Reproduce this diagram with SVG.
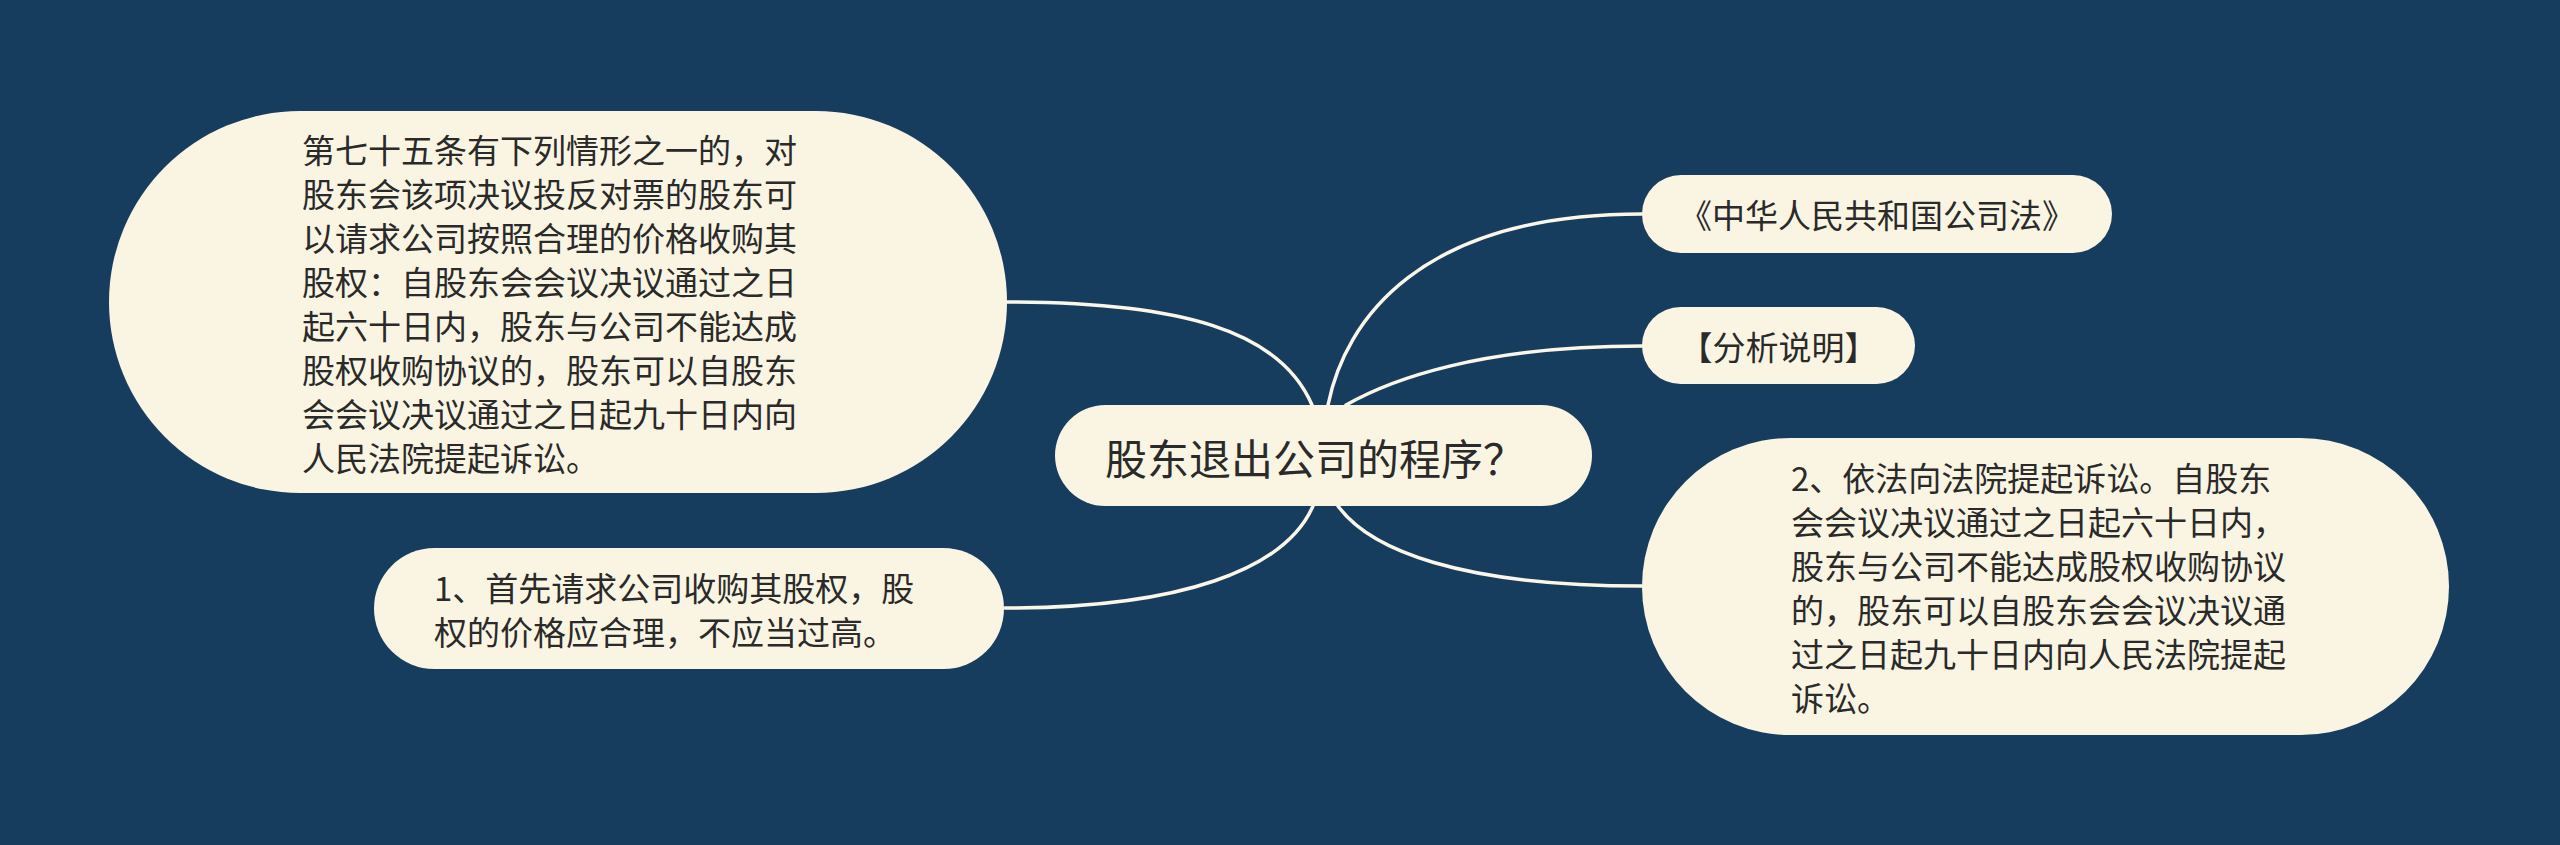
<svg xmlns="http://www.w3.org/2000/svg" width="2560" height="845" viewBox="0 0 2560 845">
<style>
.bg{fill:#173d5e}
.node{fill:#faf5e2}
.edge{fill:none;stroke:#fbf7e8;stroke-width:3.5;stroke-linecap:round}
.t{font-family:"Noto Sans CJK SC","Noto Sans",sans-serif;fill:#2a2a2a;dominant-baseline:central}
.s{font-size:33px}
.c{font-size:42px}
</style>
<rect class="bg" x="0" y="0" width="2560" height="845"/>
<g id="connectors">
<path class="edge" d="M1312 405 C1280 330 1180 302 1005 302"/>
<path class="edge" d="M1328 405 C1345 320 1420 214 1642 214"/>
<path class="edge" d="M1346 405 C1390 380 1480 346 1642 346"/>
<path class="edge" d="M1313 506 C1285 570 1180 608 1005 608"/>
<path class="edge" d="M1338 506 C1370 550 1460 586 1642 586"/>
</g>
<g id="center">
<rect class="node" x="1055" y="405" width="537" height="101" rx="50.5"/>
<text class="t c" x="1315" y="456" text-anchor="middle">股东退出公司的程序？</text>
</g>
<g id="node-law">
<rect class="node" x="1642" y="175" width="470" height="78" rx="39"/>
<text class="t s" x="1877" y="214" text-anchor="middle">《中华人民共和国公司法》</text>
</g>
<g id="node-analysis">
<rect class="node" x="1642" y="307" width="273" height="77" rx="38.5"/>
<text class="t s" x="1778.5" y="345.5" text-anchor="middle">【分析说明】</text>
</g>
<g id="node-article">
<rect class="node" x="109" y="111" width="898" height="382" rx="191"/>
<text class="t s" x="302">
<tspan x="302" y="149">第七十五条有下列情形之一的，对</tspan>
<tspan x="302" y="193">股东会该项决议投反对票的股东可</tspan>
<tspan x="302" y="237">以请求公司按照合理的价格收购其</tspan>
<tspan x="302" y="281">股权：自股东会会议决议通过之日</tspan>
<tspan x="302" y="325">起六十日内，股东与公司不能达成</tspan>
<tspan x="302" y="369">股权收购协议的，股东可以自股东</tspan>
<tspan x="302" y="413">会会议决议通过之日起九十日内向</tspan>
<tspan x="302" y="457">人民法院提起诉讼。</tspan>
</text>
</g>
<g id="node-step1">
<rect class="node" x="374" y="548" width="630" height="121" rx="60.5"/>
<text class="t s">
<tspan x="434" y="586.5">1、首先请求公司收购其股权，股</tspan>
<tspan x="434" y="630.5">权的价格应合理，不应当过高。</tspan>
</text>
</g>
<g id="node-step2">
<rect class="node" x="1642" y="438" width="807" height="297" rx="148.5"/>
<text class="t s">
<tspan x="1791" y="476.5">2、依法向法院提起诉讼。自股东</tspan>
<tspan x="1791" y="520.5">会会议决议通过之日起六十日内，</tspan>
<tspan x="1791" y="564.5">股东与公司不能达成股权收购协议</tspan>
<tspan x="1791" y="608.5">的，股东可以自股东会会议决议通</tspan>
<tspan x="1791" y="652.5">过之日起九十日内向人民法院提起</tspan>
<tspan x="1791" y="696.5">诉讼。</tspan>
</text>
</g>
</svg>
